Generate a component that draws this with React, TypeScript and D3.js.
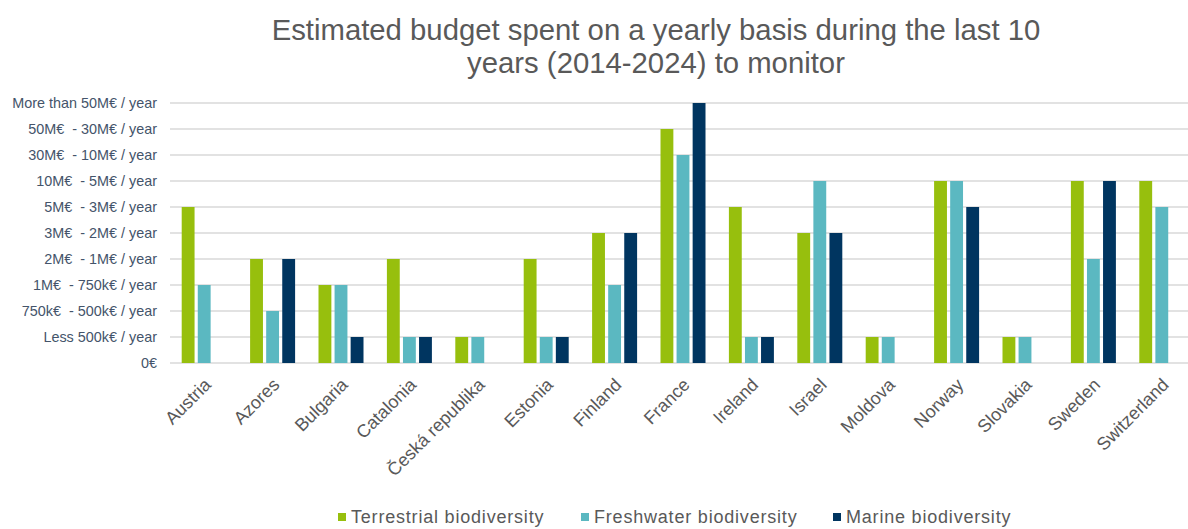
import React from "react";
import * as d3 from "d3";

const countries = [
  "Austria", "Azores", "Bulgaria", "Catalonia", "Česká republika", "Estonia", "Finland",
  "France", "Ireland", "Israel", "Moldova", "Norway", "Slovakia", "Sweden", "Switzerland",
];

const levels = [
  "0€",
  "Less 500k€ / year",
  "750k€  - 500k€ / year",
  "1M€  - 750k€ / year",
  "2M€  - 1M€ / year",
  "3M€  - 2M€ / year",
  "5M€  - 3M€ / year",
  "10M€  - 5M€ / year",
  "30M€  - 10M€ / year",
  "50M€  - 30M€ / year",
  "More than 50M€ / year",
];

const terrestrial = [6, 4, 3, 4, 1, 4, 5, 9, 6, 5, 1, 7, 1, 7, 7];
const freshwater = [3, 2, 3, 1, 1, 1, 3, 8, 1, 7, 1, 7, 1, 4, 6];
const marine = [0, 4, 1, 1, 0, 1, 5, 10, 1, 5, 0, 6, 0, 7, 0];

const seriesNames = ["Terrestrial biodiversity", "Freshwater biodiversity", "Marine biodiversity"];
const seriesColors = ["#97bf0d", "#5bb8c1", "#003560"];
const seriesData = [terrestrial, freshwater, marine];

export default function App() {
  const W = 1188, H = 529;
  const x0 = d3.scaleBand<string>().domain(countries).range([170, 1196]).padding(0);
  const groupW = 45;
  const x1 = d3.scaleBand<string>().domain(seriesNames).range([0, groupW]).paddingInner(0.2);
  const groupOffset = (x0.bandwidth() - groupW) / 2;
  const y = d3.scaleLinear().domain([0, levels.length - 1]).range([363, 103]);
  const font = "'Liberation Sans', Arial, sans-serif";

  const legendX = [338, 581, 833];

  return (
    <svg width={W} height={H} style={{ position: "absolute", left: 0, top: 0, background: "#fff" }} fontFamily={font}>
      <text x={656} y={40} textAnchor="middle" fontSize={29.3} fill="#595959">
        Estimated budget spent on a yearly basis during the last 10
      </text>
      <text x={656} y={73} textAnchor="middle" fontSize={29.3} fill="#595959">
        years (2014-2024) to monitor
      </text>

      {levels.map((l, i) => (
        <g key={l}>
          <line x1={170} x2={1188} y1={y(i)} y2={y(i)} stroke="#d9d9d9" strokeWidth={1.5} />
          <text x={157} y={y(i)} dy="0.35em" textAnchor="end" fontSize={14.4} fill="#44546a" style={{ whiteSpace: "pre" }}>
            {l}
          </text>
        </g>
      ))}

      {countries.map((c, ci) => (
        <g key={c} transform={`translate(${(x0(c) ?? 0) + groupOffset},0)`}>
          {seriesNames.map((s, si) => {
            const v = seriesData[si][ci];
            if (!v) return null;
            return (
              <rect
                key={s}
                x={x1(s)}
                y={y(v)}
                width={x1.bandwidth()}
                height={y(0) - y(v)}
                fill={seriesColors[si]}
              />
            );
          })}
        </g>
      ))}

      {countries.map((c) => {
        const cx = (x0(c) ?? 0) + x0.bandwidth() / 2 - 1;
        return (
          <text
            key={c}
            transform={`translate(${cx},377) rotate(-45)`}
            textAnchor="end"
            fontSize={18}
            fill="#595959"
            dy="0.7em"
          >
            {c}
          </text>
        );
      })}

      {seriesNames.map((s, i) => (
        <g key={s} transform={`translate(${legendX[i]},517)`}>
          <rect x={0} y={-4} width={8} height={8} fill={seriesColors[i]} />
          <text x={13} y={0} dy="0.35em" fontSize={18} letterSpacing={0.8} fill="#595959">
            {s}
          </text>
        </g>
      ))}
    </svg>
  );
}
